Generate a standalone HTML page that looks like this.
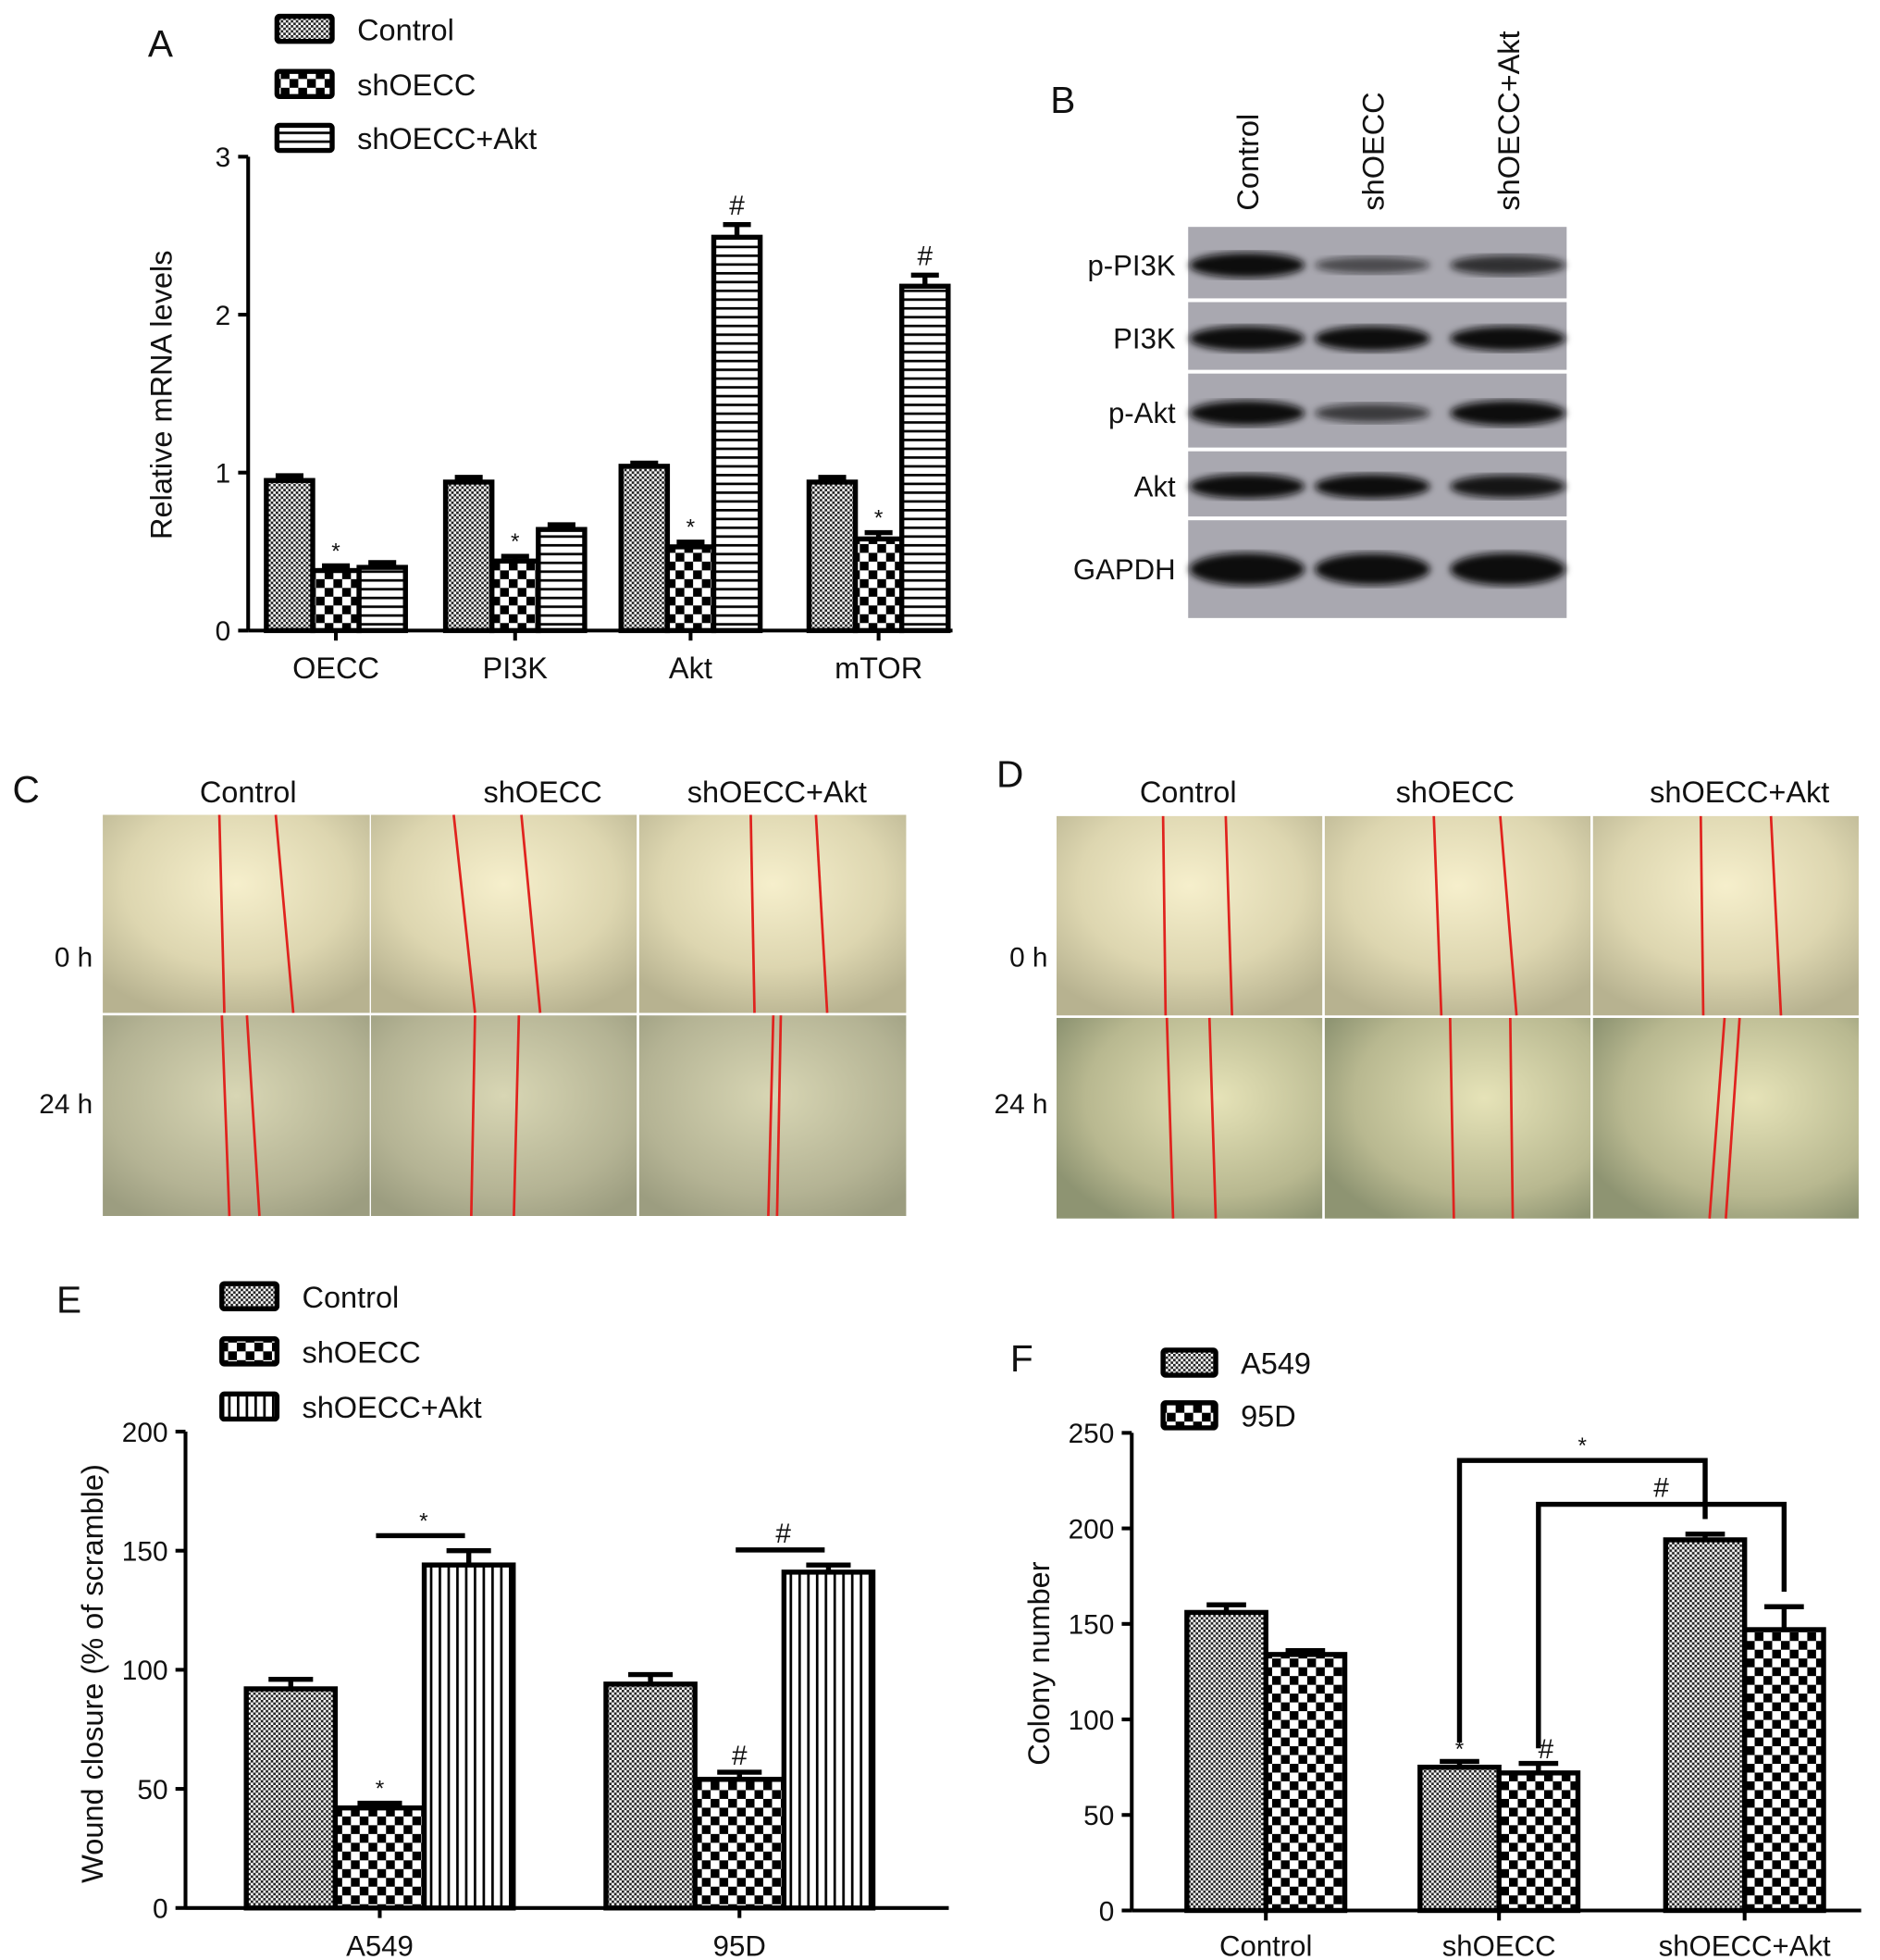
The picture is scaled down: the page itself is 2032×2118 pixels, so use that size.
<!DOCTYPE html>
<html><head><meta charset="utf-8">
<style>
html,body{margin:0;padding:0;background:#fff;}
svg{display:block;font-family:"Liberation Sans",Arial,sans-serif;}
</style></head>
<body>
<svg id="fig" width="2032" height="2118" viewBox="0 0 1500 1563.5" xmlns="http://www.w3.org/2000/svg">
<defs>
<pattern id="pCtrl" width="4" height="4" patternUnits="userSpaceOnUse"><rect width="4" height="4" fill="#fff"/><rect width="2" height="2" fill="#222"/><rect x="2" y="2" width="2" height="2" fill="#222"/></pattern>
<pattern id="pSh" width="14" height="14" patternUnits="userSpaceOnUse"><rect width="14" height="14" fill="#fff"/><rect width="7" height="7" fill="#000"/><rect x="7" y="7" width="7" height="7" fill="#000"/></pattern>
<pattern id="pH" width="8" height="7" patternUnits="userSpaceOnUse"><rect width="8" height="7" fill="#fff"/><rect width="8" height="2" fill="#000"/></pattern>
<pattern id="pV" width="7" height="8" patternUnits="userSpaceOnUse"><rect width="7" height="8" fill="#fff"/><rect width="2" height="8" fill="#000"/></pattern>
<radialGradient id="g0" cx="0.5" cy="0.35" r="0.7"><stop offset="0" stop-color="#f6efcc"/><stop offset="0.6" stop-color="#ddd6b0"/><stop offset="1" stop-color="#b7b290"/></radialGradient>
<radialGradient id="g24" cx="0.5" cy="0.4" r="0.7"><stop offset="0" stop-color="#d8d6b4"/><stop offset="0.7" stop-color="#b4b394"/><stop offset="1" stop-color="#9c9d80"/></radialGradient>
<radialGradient id="g24d" cx="0.6" cy="0.4" r="0.7"><stop offset="0" stop-color="#e6e3b8"/><stop offset="0.7" stop-color="#b8b890"/><stop offset="1" stop-color="#8e9472"/></radialGradient>
<filter id="blur"><feGaussianBlur stdDeviation="3"/></filter>
</defs>
<g id="root"></g>
</svg>
<script>
// ---------- data ----------
const aCategories = ["OECC","PI3K","Akt","mTOR"];
const aControl = [0.95,0.94,1.04,0.94];
const aShOECC = [0.38,0.44,0.53,0.58];
const aShAkt = [0.40,0.64,2.49,2.18];
const aErrCtrl = [0.03,0.03,0.02,0.03];
const aErrSh = [0.03,0.03,0.03,0.04];
const aErrAkt = [0.03,0.03,0.08,0.07];
const aTicks = [0,1,2,3];

const eCategories = ["A549","95D"];
const eControl = [92,94];
const eShOECC = [42,54];
const eShAkt = [144,141];
const eErrCtrl = [4,4];
const eErrSh = [2,3];
const eErrAkt = [6,3];
const eTicks = [0,50,100,150,200];

const fCategories = ["Control","shOECC","shOECC+Akt"];
const fA549 = [156,75,194];
const f95D = [134,72,147];
const fErrA549 = [4,3,3];
const fErr95D = [2,5,12];
const fTicks = [0,50,100,150,200,250];

const blotRows = ["p-PI3K","PI3K","p-Akt","Akt","GAPDH"];
const blotIntensity = [[1.0,0.35,0.6],[1.0,1.0,0.95],[1.0,0.5,1.0],[0.95,0.95,0.85],[1.0,0.95,1.0]];

// ---------- helpers ----------
const NS="http://www.w3.org/2000/svg";
const root=document.getElementById('root');
function el(tag,attrs,parent,text){const e=document.createElementNS(NS,tag);for(const k in attrs)e.setAttribute(k,attrs[k]);if(text!==undefined)e.textContent=text;(parent||root).appendChild(e);return e;}
function txt(x,y,s,size,parent,anchor,name,extra){const t=el('text',Object.assign({x:x,y:y,'font-size':size,'text-anchor':anchor||'start',fill:'#111'},extra||{}),parent,s);


return t;}

function drawAxisY(g,x0,yTop,yBot,ticks,max,labelName){
  const sy=v=>yBot-(v/max)*(yBot-yTop);
  const ax=el('line',{x1:x0,y1:yTop,x2:x0,y2:yBot,stroke:'#000','stroke-width':3},g);
  
  
  ticks.forEach(t=>{el('line',{x1:x0-8,y1:sy(t),x2:x0,y2:sy(t),stroke:'#000','stroke-width':3},g);
    txt(x0-14,sy(t)+8,String(t),22,g,'end',labelName+'-y-tick');});
  return sy;
}
function bar(g,x,w,yBase,yTop,fill,name){
  const r=el('rect',{x:x,y:yTop,width:w,height:yBase-yTop,fill:fill,stroke:'#000','stroke-width':4},g);
  
  
  return r;
}
function errbar(g,cx,w,yv,ye){
  el('line',{x1:cx,y1:yv,x2:cx,y2:ye,stroke:'#000','stroke-width':4},g);
  el('line',{x1:cx-w/2,y1:ye,x2:cx+w/2,y2:ye,stroke:'#000','stroke-width':4},g);
}
function legend(g,x,y,fill,label,name,bw){
  const r=el('rect',{x:x,y:y,width:bw||44,height:20,fill:fill,stroke:'#000','stroke-width':4,rx:2},g);
  
  
  txt(x+(bw||44)+20,y+19,label,24,g,'start',name+'-label');
}

// ---------- Panel A ----------
const gA=el('g',{});


txt(118,45,'A',30,gA,'start','panel-a-label');
legend(gA,221,13,'url(#pCtrl)','Control','legend-control-a');
legend(gA,221,57,'url(#pSh)','shOECC','legend-shoecc-a');
legend(gA,221,100,'url(#pH)','shOECC+Akt','legend-shoecc-akt-a');
const syA=drawAxisY(gA,198,125,503,aTicks,3,'panel-a');
el('line',{x1:198,y1:503,x2:760,y2:503,stroke:'#000','stroke-width':3},gA);
txt(0,0,'Relative mRNA levels',24,gA,'middle','panel-a-y-axis-title',{transform:'translate(137,315) rotate(-90)'});
const aCenters=[268,411,551,701], bwA=37;
aCategories.forEach((c,i)=>{
  const cx=aCenters[i];
  el('line',{x1:cx,y1:503,x2:cx,y2:511,stroke:'#000','stroke-width':3},gA);
  txt(cx,541,c,24,gA,'middle','panel-a-x-label');
  const vals=[aControl[i],aShOECC[i],aShAkt[i]],errs=[aErrCtrl[i],aErrSh[i],aErrAkt[i]],fills=['url(#pCtrl)','url(#pSh)','url(#pH)'];
  vals.forEach((v,j)=>{
    const x=cx-1.5*bwA+j*bwA;
    errbar(gA,x+bwA/2,bwA*0.6,syA(v),syA(v+errs[j]));
    bar(gA,x,bwA,503,syA(v),fills[j],'bar-a-'+c.toLowerCase()+'-'+j);
  });
  txt(cx,syA(aShOECC[i]+aErrSh[i])-6,'*',18,gA,'middle','significance-star');
  if(aShAkt[i]>1.5) txt(cx+bwA,syA(aShAkt[i]+aErrAkt[i])-8,'#',22,gA,'middle','significance-hash');
});

// ---------- Panel B ----------
const gB=el('g',{});


txt(838,90,'B',30,gB,'start','panel-b-label');
const laneX=[995,1095,1203], laneNames=['Control','shOECC','shOECC+Akt'];
laneNames.forEach((n,i)=>txt(0,0,n,24,gB,'start','lane-label',{transform:`translate(${laneX[i]+9},168) rotate(-90)`}));
const rowY=[[181,238],[241,295],[298,357],[360,412],[415,493]];
blotRows.forEach((r,i)=>{
  const [y0,y1]=rowY[i];
  const bg=el('rect',{x:948,y:y0,width:302,height:y1-y0,fill:'#a9a8b0'},gB);
  
  
  const cy=(y0+y1)/2+(i==4?0:2);
  blotIntensity[i].forEach((v,j)=>{
    const h=(i==4?26:20)*(0.5+0.5*v);
    el('ellipse',{cx:laneX[j],cy:cy,rx:46,ry:h/2,fill:'#0a0a0e',opacity:Math.min(1,0.35+0.7*v),filter:'url(#blur)'},gB);
  });
  txt(938,cy+8,r,23,gB,'end','blot-label-'+r.toLowerCase());
});

// ---------- Panels C, D ----------
function scratchPanel(label,lx,ly,hdrX,cols,rows,lines,names,rowLbl,d){
  const g=el('g',{});
  
  
  txt(lx,ly,label,30,g,'start','panel-'+label.toLowerCase()+'-label');
  names.forEach((n,i)=>txt(hdrX[i],640,n,24,g,'middle','column-header'));
  rows.forEach((r,ri)=>{
    txt(rowLbl[ri][0],rowLbl[ri][1],['0 h','24 h'][ri],22,g,'end','row-label');
    cols.forEach((c,ci)=>{
      const im=el('rect',{x:c[0],y:r[0],width:c[1]-c[0],height:r[1]-r[0],fill:ri==0?'url(#g0)':(d?'url(#g24d)':'url(#g24)')},g);
      
      
      const L=lines[ri][ci];
      L.forEach(p=>el('line',{x1:c[0]+p[0],y1:r[0],x2:c[0]+p[1],y2:r[1],stroke:'#e0231e','stroke-width':2},g));
    });
  });
}
scratchPanel('C',10,640,[198,433,620],[[82,295],[296,508],[510,723]],[[650,808],[810,970]],
 [[[[93,97],[138,152]],[[66,83],[120,135]],[[89,92],[141,150]]],[[[95,101],[115,125]],[[83,80],[118,114]],[[107,103],[113,110]]]],
 ['Control','shOECC','shOECC+Akt'],[[74,771],[74,888]],false);
scratchPanel('D',795,628,[948,1161,1388],[[843,1055],[1057,1269],[1271,1483]],[[651,810],[812,972]],
 [[[[85,87],[135,140]],[[87,93],[140,153]],[[86,88],[142,150]]],[[[88,93],[122,127]],[[100,103],[148,150]],[[105,93],[117,106]]]],
 ['Control','shOECC','shOECC+Akt'],[[836,771],[836,888]],true);

// ---------- Panel E ----------
const gE=el('g',{});


txt(45,1047,'E',30,gE,'start','panel-e-label');
legend(gE,177,1024,'url(#pCtrl)','Control','legend-control-e');
legend(gE,177,1068,'url(#pSh)','shOECC','legend-shoecc-e');
legend(gE,177,1112,'url(#pV)','shOECC+Akt','legend-shoecc-akt-e');
const syE=drawAxisY(gE,148,1142,1522,eTicks,200,'panel-e');
el('line',{x1:148,y1:1522,x2:757,y2:1522,stroke:'#000','stroke-width':3},gE);
txt(0,0,'Wound closure (% of scramble)',24,gE,'middle','panel-e-y-axis-title',{transform:'translate(82,1335) rotate(-90)'});
const eCenters=[303,590], bwE=71;
eCategories.forEach((c,i)=>{
  const cx=eCenters[i];
  el('line',{x1:cx,y1:1522,x2:cx,y2:1530,stroke:'#000','stroke-width':3},gE);
  txt(cx,1560,c,23,gE,'middle','panel-e-x-label');
  const vals=[eControl[i],eShOECC[i],eShAkt[i]],errs=[eErrCtrl[i],eErrSh[i],eErrAkt[i]],fills=['url(#pCtrl)','url(#pSh)','url(#pV)'];
  vals.forEach((v,j)=>{
    const x=cx-1.5*bwE+j*bwE;
    errbar(gE,x+bwE/2,bwE*0.5,syE(v),syE(v+errs[j]));
    bar(gE,x,bwE,1522,syE(v),fills[j],'bar-e-'+c.toLowerCase()+'-'+j);
  });
  const mk=i==0?'*':'#';
  txt(cx,syE(eShOECC[i]+eErrSh[i])-6,mk,i==0?18:22,gE,'middle','significance-mark');
  const ly=syE(eShAkt[i]+eErrAkt[i])-12;
  el('line',{x1:cx-3,y1:ly,x2:cx+68,y2:ly,stroke:'#000','stroke-width':4},gE);
  txt(cx+35,ly-6,mk,i==0?18:22,gE,'middle','significance-mark');
});

// ---------- Panel F ----------
const gF=el('g',{});


txt(806,1094,'F',30,gF,'start','panel-f-label');
legend(gF,928,1077,'url(#pCtrl)','A549','legend-a549',42);
legend(gF,928,1119,'url(#pSh)','95D','legend-95d',42);
const syF=drawAxisY(gF,903,1143,1524,fTicks,250,'panel-f');
el('line',{x1:903,y1:1524,x2:1485,y2:1524,stroke:'#000','stroke-width':3},gF);
txt(0,0,'Colony number',24,gF,'middle','panel-f-y-axis-title',{transform:'translate(837,1327) rotate(-90)'});
const fCenters=[1010,1196,1392], bwF=63;
fCategories.forEach((c,i)=>{
  const cx=fCenters[i];
  el('line',{x1:cx,y1:1524,x2:cx,y2:1532,stroke:'#000','stroke-width':3},gF);
  txt(cx,1560,c,23,gF,'middle','panel-f-x-label');
  [[fA549[i],fErrA549[i],'url(#pCtrl)'],[f95D[i],fErr95D[i],'url(#pSh)']].forEach((d,j)=>{
    const x=cx-bwF+j*bwF;
    errbar(gF,x+bwF/2,bwF*0.5,syF(d[0]),syF(d[0]+d[1]));
    bar(gF,x,bwF,1524,syF(d[0]),d[2],'bar-f-'+j+'-'+i);
  });
});
// brackets
(function(){
  const xs=fCenters[1]-bwF/2, xs2=fCenters[1]+bwF/2, xa=fCenters[2]-bwF/2, xa2=fCenters[2]+bwF/2;
  const y1=1165,y2=1200;
  const p1=el('path',{d:`M${xs},${syF(fA549[1]+fErrA549[1])-15} V${y1} H${xa} V${syF(fA549[2]+fErrA549[2])-12}`,fill:'none',stroke:'#000','stroke-width':4},gF);
  
  
  const p2=el('path',{d:`M${xs2},${syF(f95D[1]+fErr95D[1])-12} V${y2} H${xa2} V${syF(f95D[2]+fErr95D[2])-12}`,fill:'none',stroke:'#000','stroke-width':4},gF);
  
  
  txt((xs+xa)/2,y1-6,'*',18,gF,'middle','significance-star');
  txt((xs2+xa2)/2,y2-6,'#',22,gF,'middle','significance-hash');
  txt(xs,syF(fA549[1]+fErrA549[1])-4,'*',18,gF,'middle','significance-star');
  txt(xs2+6,syF(f95D[1]+fErr95D[1])-4,'#',22,gF,'middle','significance-hash');
})();
</script>
</body></html>
